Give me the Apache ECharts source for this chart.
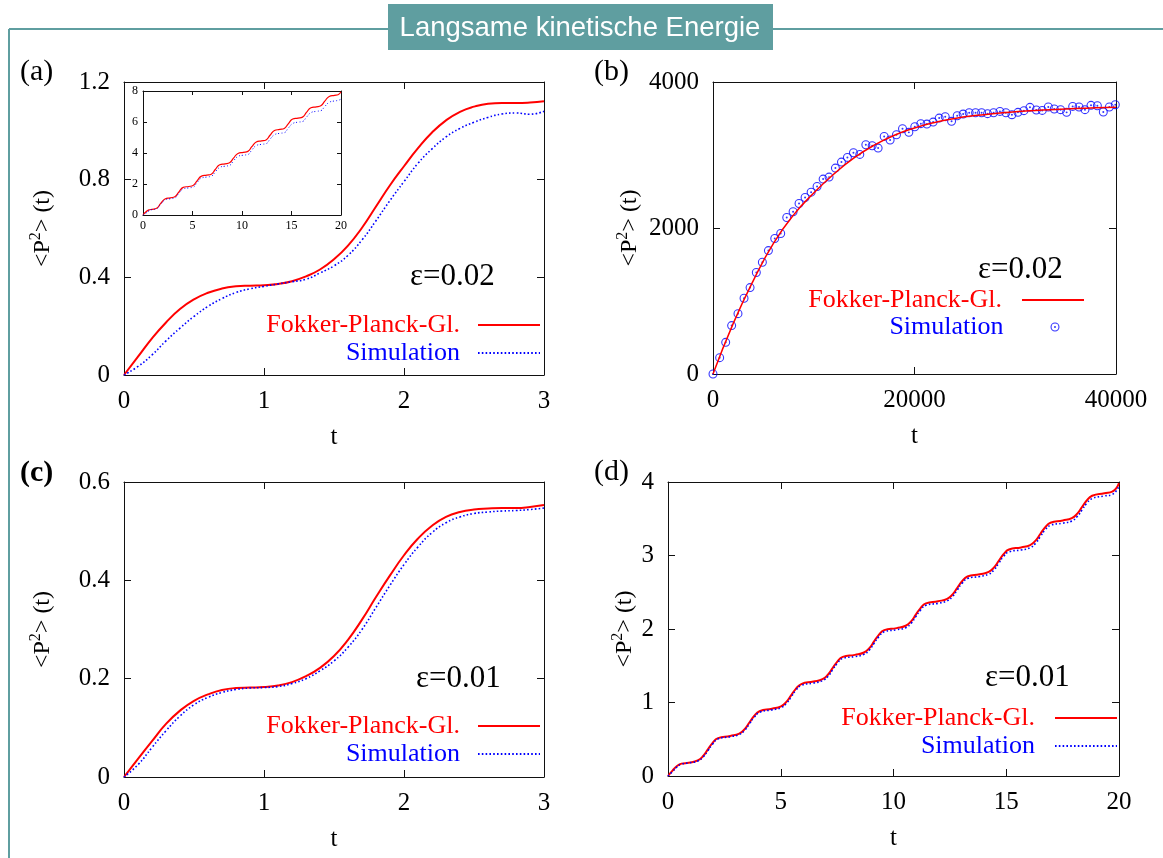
<!DOCTYPE html>
<html>
<head>
<meta charset="utf-8">
<script src="https://cdn.jsdelivr.net/npm/echarts@6/dist/echarts.min.js"></script>
<style>
html, body { margin: 0; padding: 0; background: #fff; }
#main { width: 1163px; height: 858px; }
</style>
</head>
<body>
<div id="main"></div>
<script>
// (a) and (c): t from 0 to 3
var tA = [0,0.1,0.2,0.3,0.4,0.5,0.6,0.7,0.8,0.9,1.0,1.1,1.2,1.3,1.4,1.5,1.6,1.7,1.8,1.9,2.0,2.1,2.2,2.3,2.4,2.5,2.6,2.7,2.8,2.9,3.0];
var fpA = [0,0.075,0.15,0.215,0.27,0.31,0.337,0.354,0.363,0.366,0.368,0.373,0.384,0.404,0.432,0.474,0.53,0.603,0.69,0.777,0.855,0.929,0.993,1.043,1.078,1.099,1.111,1.114,1.114,1.116,1.121];
var simA = [0,0.035,0.082,0.14,0.192,0.24,0.281,0.313,0.338,0.353,0.363,0.373,0.382,0.392,0.418,0.447,0.49,0.553,0.632,0.715,0.792,0.867,0.926,0.975,1.01,1.035,1.055,1.069,1.073,1.068,1.08];
var fpC = [0,0.037,0.073,0.108,0.135,0.155,0.168,0.177,0.181,0.182,0.183,0.186,0.193,0.205,0.222,0.246,0.279,0.32,0.366,0.41,0.451,0.485,0.511,0.529,0.539,0.544,0.546,0.547,0.547,0.549,0.553];
var simC = [0,0.025,0.06,0.094,0.124,0.147,0.162,0.172,0.178,0.181,0.182,0.184,0.19,0.2,0.216,0.236,0.264,0.3,0.345,0.39,0.432,0.468,0.497,0.517,0.529,0.536,0.539,0.541,0.542,0.544,0.547];

// inset of (a): t from 0 to 20
var tIn = [0,0.3,0.6,0.92,1.37,1.77,2.22,2.76,3.21,3.61,4.06,4.61,5.06,5.46,5.91,6.45,6.9,7.3,7.75,8.29,8.74,9.14,9.59,10.14,10.59,10.99,11.44,11.98,12.43,12.83,13.28,13.82,14.27,14.67,15.12,15.66,16.11,16.51,16.96,17.51,17.96,18.36,18.81,19.35,19.7,20];
var fpIn = [0,0.21,0.33,0.366,0.43,0.73,1.03,1.11,1.175,1.475,1.78,1.84,1.905,2.205,2.51,2.57,2.635,2.935,3.24,3.3,3.365,3.665,3.97,4.04,4.105,4.405,4.71,4.78,4.845,5.145,5.45,5.52,5.585,5.885,6.19,6.25,6.315,6.615,6.92,6.98,7.045,7.345,7.65,7.72,7.76,7.95];
var simIn = [0,0.12,0.27,0.35,0.4,0.68,0.97,1.05,1.1,1.39,1.68,1.75,1.8,2.09,2.38,2.45,2.5,2.78,3.07,3.15,3.2,3.49,3.78,3.86,3.9,4.19,4.48,4.56,4.6,4.89,5.18,5.27,5.31,5.6,5.9,5.99,6.03,6.31,6.6,6.69,6.73,7.0,7.27,7.36,7.39,7.48];

// (b): t from 0 to 40000
var tB = [0,2000,4000,6000,8000,10000,12000,14000,16000,18000,20000,22000,24000,26000,28000,30000,32000,34000,36000,38000,40000];
var fpB = [0,690,1280,1790,2180,2480,2740,2960,3135,3270,3370,3445,3500,3540,3570,3592,3610,3624,3636,3646,3655];
var simBT = [0,660,1260,1850,2480,3080,3680,4300,4900,5500,6130,6720,7320,7950,8540,9140,9740,10330,10930,11520,12150,12750,13340,13940,14570,15170,15800,16390,16990,17580,18210,18810,19440,20030,20630,21230,21850,22450,23050,23680,24240,24830,25430,26060,26660,27250,27850,28480,29070,29670,30270,30860,31460,32090,32680,33280,33870,34500,35100,35700,36330,36920,37520,38150,38740,39340,39930];
var simBV = [0,224,434,663,827,1038,1184,1390,1531,1691,1856,1925,2144,2222,2336,2418,2491,2569,2670,2697,2821,2903,2967,3031,3008,3141,3127,3095,3255,3205,3278,3360,3310,3387,3429,3424,3451,3506,3525,3461,3538,3561,3579,3579,3579,3566,3579,3597,3579,3552,3584,3607,3653,3616,3611,3657,3630,3621,3584,3666,3657,3621,3680,3675,3589,3657,3689];

// (d): t from 0 to 20
var tD = [0,0.2,0.4,0.6,0.92,1.32,1.57,1.77,1.97,2.22,2.76,3.16,3.41,3.61,3.81,4.06,4.61,5.01,5.26,5.46,5.66,5.91,6.45,6.85,7.1,7.3,7.5,7.75,8.29,8.69,8.94,9.14,9.34,9.59,10.14,10.54,10.79,10.99,11.19,11.44,11.98,12.38,12.63,12.83,13.03,13.28,13.82,14.22,14.47,14.67,14.87,15.12,15.66,16.06,16.31,16.51,16.71,16.96,17.51,17.91,18.16,18.36,18.56,18.81,19.35,19.7,20];
var fpD = [0,0.073,0.135,0.168,0.18,0.212,0.276,0.363,0.448,0.516,0.545,0.577,0.641,0.728,0.813,0.881,0.915,0.947,1.011,1.098,1.183,1.251,1.285,1.317,1.381,1.468,1.553,1.621,1.648,1.68,1.744,1.831,1.916,1.984,2.012,2.044,2.108,2.195,2.28,2.348,2.378,2.41,2.474,2.561,2.646,2.714,2.745,2.777,2.841,2.928,3.013,3.081,3.11,3.142,3.206,3.293,3.378,3.446,3.477,3.509,3.573,3.66,3.745,3.813,3.848,3.868,3.985];
var simD = [0,0.06,0.124,0.162,0.178,0.205,0.262,0.345,0.432,0.505,0.535,0.565,0.625,0.71,0.795,0.866,0.9,0.93,0.99,1.076,1.162,1.232,1.265,1.296,1.357,1.445,1.53,1.6,1.625,1.655,1.718,1.806,1.892,1.962,1.99,2.018,2.08,2.168,2.254,2.323,2.35,2.382,2.445,2.532,2.618,2.686,2.715,2.745,2.808,2.896,2.982,3.05,3.075,3.106,3.17,3.257,3.343,3.41,3.44,3.47,3.534,3.62,3.706,3.775,3.81,3.83,3.945];

var SERIF = '"Liberation Serif", "DejaVu Serif", serif';
var TEAL = '#5f9ea0';
var RED = '#ff0000', BLUE = '#0000ff';
var legendText = { fpA: 'Fokker-Planck-Gl.', simA: 'Simulation', fpB: 'Fokker-Planck-Gl.', simB: 'Simulation',
                   fpC: 'Fokker-Planck-Gl.', simC: 'Simulation', fpD: 'Fokker-Planck-Gl.', simD: 'Simulation' };

function pairs(xs, ys) {
    return xs.map(function (x, i) { return [x, ys[i]]; });
}
function plain(v) { return String(v); }

var grids = [], xAxes = [], yAxes = [];

// a gnuplot style box: axes on all four sides, ticks pointing inward
function addBox(rect, xs, ys, fs, tickLen, yName, yGap) {
    var gi = grids.length;
    grids.push(rect);
    var line = { show: true, onZero: false, lineStyle: { color: '#111', width: 1 } };
    var tick = { show: true, inside: true, length: tickLen, lineStyle: { color: '#111', width: 1 } };
    var lab = { show: true, color: '#000', fontFamily: SERIF, fontSize: fs, formatter: plain };
    xAxes.push({ type: 'value', gridIndex: gi, position: 'bottom', min: xs[0], max: xs[1], interval: xs[2],
        axisLine: line, axisTick: tick, splitLine: { show: false },
        axisLabel: Object.assign({ margin: fs > 15 ? 14 : 5 }, lab),
        name: xs[3] || '', nameLocation: 'middle', nameGap: 50, nameMoveOverlap: false,
        nameTextStyle: { color: '#000', fontFamily: SERIF, fontSize: 25 } });
    xAxes.push({ type: 'value', gridIndex: gi, position: 'top', min: xs[0], max: xs[1], interval: xs[2],
        axisLine: line, axisTick: tick, splitLine: { show: false }, axisLabel: { show: false } });
    yAxes.push({ type: 'value', gridIndex: gi, position: 'left', min: ys[0], max: ys[1], interval: ys[2],
        axisLine: line, axisTick: tick, splitLine: { show: false },
        axisLabel: Object.assign({ margin: fs > 15 ? 14 : 5 }, lab),
        name: yName || '', nameLocation: 'middle', nameGap: yGap || 0, nameRotate: 90, nameMoveOverlap: false,
        nameTextStyle: { color: '#000', rich: {
            a: { fontFamily: SERIF, fontSize: 24, lineHeight: 30, color: '#000' },
            s: { fontFamily: SERIF, fontSize: 16, lineHeight: 16, verticalAlign: 'top', color: '#000' }
        } } });
    yAxes.push({ type: 'value', gridIndex: gi, position: 'right', min: ys[0], max: ys[1], interval: ys[2],
        axisLine: line, axisTick: tick, splitLine: { show: false }, axisLabel: { show: false } });
    return 2 * gi;
}

var P2 = '{a|<P}{s|2}{a|> (t)}';
var ia = addBox({ left: 124, top: 82, width: 420, height: 293 }, [0, 3, 1, 't'], [0, 1.2, 0.4], 25, 7, P2, 66);
var ii = addBox({ left: 143, top: 91, width: 198, height: 124 }, [0, 20, 5], [0, 8, 2], 12, 4);
var ib = addBox({ left: 713, top: 82, width: 403, height: 292 }, [0, 40000, 20000, 't'], [0, 4000, 2000], 25, 7, P2, 68);
var ic = addBox({ left: 124, top: 482, width: 420, height: 295 }, [0, 3, 1, 't'], [0, 0.6, 0.2], 25, 7, P2, 66);
var id = addBox({ left: 668, top: 482, width: 451, height: 294 }, [0, 20, 5, 't'], [0, 4, 1], 25, 7, P2, 28);

// the symbol colour is transparent so the legend only shows the line sample
function fpLine(name, idx, t, v, w) {
    return { type: 'line', name: name, xAxisIndex: idx, yAxisIndex: idx, data: pairs(t, v),
        symbol: 'none', smooth: 0.5,
        lineStyle: { color: RED, width: w }, itemStyle: { color: 'rgba(0,0,0,0)' } };
}
function simLine(name, idx, t, v, w) {
    return { type: 'line', name: name, xAxisIndex: idx, yAxisIndex: idx, data: pairs(t, v),
        symbol: 'none', smooth: 0.5,
        lineStyle: { color: BLUE, width: w, type: [w, 2.2] }, itemStyle: { color: 'rgba(0,0,0,0)' } };
}

// ring with a centre dot (outer and inner circles wound opposite ways)
var RING = 'path://M0,-10A10,10 0 1 1 0,10A10,10 0 1 1 0,-10ZM0,-7.6A7.6,7.6 0 1 0 0,7.6A7.6,7.6 0 1 0 0,-7.6ZM0,-2.2A2.2,2.2 0 1 1 0,2.2A2.2,2.2 0 1 1 0,-2.2Z';

function legendBox(top, right, items, itemWidth, gap, pad) {
    return { orient: 'vertical', align: 'right', top: top, right: right, padding: 0,
        itemWidth: itemWidth, itemHeight: 9, itemGap: gap, selectedMode: false,
        formatter: function (n) { return legendText[n]; },
        textStyle: { fontFamily: SERIF, fontSize: 26, lineHeight: 26, padding: [0, pad, 0, 0] },
        data: items };
}
function fpItem(n) { return { name: n, textStyle: { color: RED } }; }
function simItem(n) { return { name: n, textStyle: { color: BLUE } }; }

function label(text, x, y, size, bold) {
    return { type: 'text', x: x, y: y, style: { text: text, fill: '#000',
        font: (bold ? 'bold ' : '') + size + 'px ' + SERIF, textVerticalAlign: 'middle' } };
}

var option = {
    animation: false,
    backgroundColor: '#fff',
    grid: grids,
    xAxis: xAxes,
    yAxis: yAxes,
    legend: [
        legendBox(312, 622, [fpItem('fpA'), simItem('simA')], 62, 2, 13),
        legendBox(287, 78, [fpItem('fpB')], 62, 2, 15),
        // the ring key sits in the middle of the line slot above it
        legendBox(314, 103.5, [simItem('simB')], 9, 2, 42),
        legendBox(713, 622, [fpItem('fpC'), simItem('simC')], 62, 2, 13),
        legendBox(705, 45, [fpItem('fpD'), simItem('simD')], 62, 2, 15)
    ],
    graphic: [
        { type: 'line', shape: { x1: 9, y1: 29, x2: 1163, y2: 29 }, style: { stroke: TEAL, lineWidth: 2 } },
        { type: 'line', shape: { x1: 9, y1: 29, x2: 9, y2: 858 }, style: { stroke: TEAL, lineWidth: 2 } },
        { type: 'rect', shape: { x: 388, y: 4, width: 385, height: 46 }, style: { fill: TEAL } },
        { type: 'text', x: 580, y: 28, style: { text: 'Langsame kinetische Energie', fill: '#fff',
            font: '27.5px "Liberation Sans", "DejaVu Sans", sans-serif', textAlign: 'center', textVerticalAlign: 'middle' } },
        label('(a)', 20, 72, 30),
        label('(b)', 594, 72, 30),
        label('(c)', 20, 473, 30, true),
        label('(d)', 594, 472, 30),
        label('\u03b5=0.02', 410, 277, 31),
        label('\u03b5=0.02', 978, 270, 31),
        label('\u03b5=0.01', 416, 679, 31),
        label('\u03b5=0.01', 985, 678, 31)
    ],
    series: [
        fpLine('fpA', ia, tA, fpA, 2),
        simLine('simA', ia, tA, simA, 1.6),
        fpLine('fpIn', ii, tIn, fpIn, 1.2),
        simLine('simIn', ii, tIn, simIn, 1),
        fpLine('fpB', ib, tB, fpB, 1.5),
        { type: 'scatter', name: 'simB', xAxisIndex: ib, yAxisIndex: ib, data: pairs(simBT, simBV),
            symbol: RING, symbolSize: 9, itemStyle: { color: BLUE } },
        fpLine('fpC', ic, tA, fpC, 2),
        simLine('simC', ic, tA, simC, 1.6),
        fpLine('fpD', id, tD, fpD, 2),
        simLine('simD', id, tD, simD, 1.6)
    ]
};

var myChart = echarts.init(document.getElementById('main'));
myChart.setOption(option);
</script>
</body>
</html>
